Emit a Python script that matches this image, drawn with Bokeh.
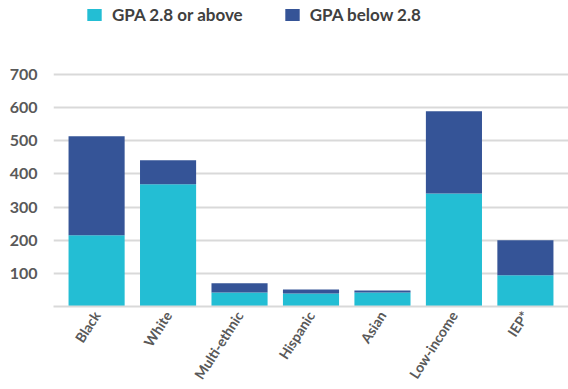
from bokeh.plotting import figure
from bokeh.models import Range1d, FixedTicker, Legend, LegendItem
from bokeh.embed import file_html
from bokeh.resources import INLINE

# Student counts by group, split at a 2.8 GPA
groups = ["Black", "White", "Multi-ethnic", "Hispanic", "Asian", "Low-income", "IEP*"]
gpa_above = [215, 369, 42, 39, 42, 341, 94]
gpa_below = [299, 72, 28, 12, 6, 248, 106]
y_ticks = [100, 200, 300, 400, 500, 600, 700]

CYAN = "#23BED4"
NAVY = "#355497"
GRID = "#D9D9D9"
FONT = "Lato"

# frame runs from the top edge down to the baseline; the legend sits in
# the headroom above the 700 line
PLOT_H = 389
BOTTOM = 83
FRAME_H = PLOT_H - BOTTOM
Y_TOP = 700 * FRAME_H / (FRAME_H - 74)

p = figure(
    x_range=groups,
    y_range=Range1d(0, Y_TOP),
    width=568,
    height=PLOT_H,
    output_backend="svg",
    toolbar_location=None,
    min_border_left=53,
    min_border_right=0,
    min_border_top=0,
    min_border_bottom=BOTTOM,
)
p.x_range.range_padding = 0.103
p.x_range.range_padding_units = "absolute"

data = {"group": groups, "above": gpa_above, "below": gpa_below}
renderers = p.vbar_stack(
    ["above", "below"],
    x="group",
    width=0.785,
    color=[CYAN, NAVY],
    line_color=None,
    source=data,
)

p.outline_line_color = None
p.background_fill_color = "white"
p.border_fill_color = "white"

# horizontal grid only
p.xgrid.grid_line_color = None
p.ygrid.ticker = FixedTicker(ticks=y_ticks)
p.ygrid.grid_line_color = GRID
p.ygrid.grid_line_width = 2

# y axis: labels only
p.yaxis.ticker = FixedTicker(ticks=y_ticks)
p.yaxis.axis_line_color = None
p.yaxis.major_tick_line_color = None
p.yaxis.minor_tick_line_color = None
p.yaxis.major_label_standoff = 10
p.yaxis.major_label_text_font = FONT
p.yaxis.major_label_text_font_style = "bold"
p.yaxis.major_label_text_font_size = "16px"
p.yaxis.major_label_text_color = "#595959"

# x axis: baseline plus rotated category labels
p.xaxis.axis_line_color = GRID
p.xaxis.axis_line_width = 2
p.xaxis.major_tick_line_color = None
p.xaxis.major_tick_out = 0
p.xaxis.major_tick_in = 0
p.xaxis.minor_tick_line_color = None
p.xaxis.major_label_orientation = 1.0
p.xaxis.major_label_standoff = 6
p.xaxis.major_label_text_font = FONT
p.xaxis.major_label_text_font_style = "bold"
p.xaxis.major_label_text_font_size = "14px"
p.xaxis.major_label_text_color = "#595959"

legend = Legend(
    items=[
        LegendItem(label="GPA 2.8 or above", renderers=[renderers[0]]),
        LegendItem(label="GPA below 2.8", renderers=[renderers[1]]),
    ],
    orientation="horizontal",
    location="top_left",
    glyph_width=18,
    glyph_height=15,
    label_standoff=9,
    label_height=15,
    spacing=40,
    padding=0,
    margin=0,
    border_line_color=None,
    background_fill_alpha=0,
    label_text_font=FONT,
    label_text_font_style="bold",
    label_text_font_size="17px",
    label_text_color="#404040",
)
legend.location = (32, FRAME_H - 25)
p.add_layout(legend, "center")

open("out.html", "w").write(file_html(p, INLINE))
